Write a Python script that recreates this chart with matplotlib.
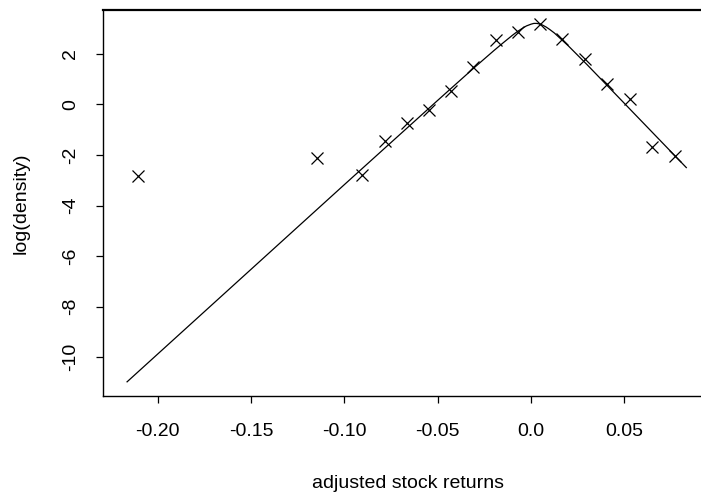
import matplotlib
matplotlib.use("Agg")
import matplotlib.pyplot as plt

plt.rcParams['font.family'] = ['Liberation Sans', 'DejaVu Sans']

# observed points (x marks)
returns = [-0.2107, -0.1146, -0.0904, -0.0782, -0.0663, -0.0547, -0.0427, -0.0310,
           -0.0189, -0.0072, 0.0049, 0.0168, 0.0289, 0.0408, 0.0529, 0.0646, 0.0770]
log_density = [-2.82, -2.11, -2.78, -1.44, -0.75, -0.23, 0.54, 1.46,
               2.54, 2.87, 3.16, 2.57, 1.78, 0.80, 0.21, -1.68, -2.04]

# fitted curve
curve_x = [-0.2165, -0.10, -0.05, -0.03, -0.02, -0.015, -0.0125, -0.01, -0.0075,
           -0.005, -0.0025, 0.0, 0.0015, 0.003, 0.0045, 0.006, 0.008, 0.01,
           0.0125, 0.015, 0.02, 0.03, 0.05, 0.0832]
curve_y = [-10.97, -3.17, 0.16, 1.48, 2.12, 2.43, 2.58, 2.73, 2.87,
           2.99, 3.10, 3.17, 3.20, 3.20, 3.18, 3.14, 3.06, 2.96,
           2.82, 2.65, 2.31, 1.57, 0.04, -2.50]

xtick_vals = [-0.20, -0.15, -0.10, -0.05, 0.0, 0.05]
xtick_labels = ["-0.20", "-0.15", "-0.10", "-0.05", "0.0", "0.05"]
ytick_vals = [2, 0, -2, -4, -6, -8, -10]
ytick_labels = ["2", "0", "-2", "-4", "-6", "-8", "-10"]

W, H = 701, 495
fig = plt.figure(figsize=(W / 100, H / 100), dpi=100)
left, right, top, bottom = 103, 713, 10, 396
ax = fig.add_axes([left / W, (H - bottom) / H, (right - left) / W, (bottom - top) / H])

ax.plot(curve_x, curve_y, color='black', lw=0.9)
ax.plot(returns, log_density, linestyle='none', marker='x', color='black',
        markersize=8.5, markeredgewidth=0.9)

ax.set_xlim(-0.2294, 0.0975)
ax.set_ylim(-11.53, 3.73)

ax.set_xticks(xtick_vals)
ax.set_xticklabels(xtick_labels)
ax.set_yticks(ytick_vals)
ax.set_yticklabels(ytick_labels)

for sp in ax.spines.values():
    sp.set_linewidth(1.0)
    sp.set_color('black')
ax.spines['top'].set_linewidth(1.6)

ax.tick_params(axis='both', direction='out', length=5.2, width=0.9, labelsize=14, color='black')
ax.tick_params(axis='x', pad=14)
ax.tick_params(axis='y', pad=12)
for lab in ax.get_yticklabels():
    lab.set_rotation(90)
    lab.set_va('center')

ax.set_xlabel("adjusted stock returns", fontsize=14)
ax.xaxis.set_label_coords((408 - left) / (right - left), (bottom - 483) / (bottom - top))
ax.xaxis.label.set_va('center')
ax.set_ylabel("log(density)", fontsize=14)
ax.yaxis.set_label_coords((30 - left) / (right - left), 0.5)

fig.savefig("out.png", dpi=100)
